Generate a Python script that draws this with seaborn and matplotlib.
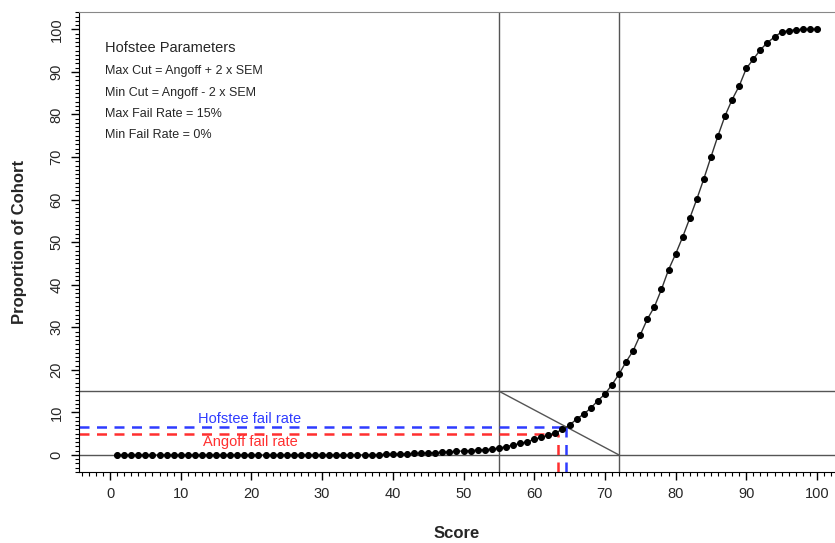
import matplotlib
matplotlib.use("Agg")
import matplotlib.pyplot as plt
from matplotlib.ticker import MultipleLocator
import seaborn as sns
import pandas as pd

scores = list(range(1, 101))
proportion = [
    0, 0, 0, 0, 0, 0, 0, 0, 0, 0,
    0, 0, 0, 0, 0, 0, 0, 0, 0, 0,
    0, 0, 0, 0, 0, 0, 0, 0, 0, 0,
    0, 0, 0, 0, 0, 0.05, 0.08, 0.1, 0.15, 0.2,
    0.25, 0.3, 0.35, 0.4, 0.5, 0.55, 0.65, 0.75, 0.85, 0.95,
    1.05, 1.15, 1.25, 1.4, 1.6, 1.95, 2.35, 2.7, 3.1, 3.7,
    4.15, 4.7, 5.2, 6.0, 7.0, 8.45, 9.6, 11.0, 12.75, 14.3,
    16.5, 19.0, 21.9, 24.5, 28.2, 31.9, 34.8, 38.9, 43.5, 47.2,
    51.2, 55.6, 60.1, 64.9, 70.0, 75.0, 79.7, 83.5, 86.7, 90.8,
    93.0, 95.2, 96.9, 98.2, 99.4, 99.7, 99.9, 100, 100, 100,
]

min_cut, max_cut = 55, 72
max_fail, min_fail = 15, 0
hofstee_cut, hofstee_rate = 64.5, 6.6
angoff_cut, angoff_rate = 63.4, 4.9

param_lines = [
    "Max Cut = Angoff + 2 x SEM",
    "Min Cut = Angoff - 2 x SEM",
    "Max Fail Rate = 15%",
    "Min Fail Rate = 0%",
]

sns.set_style("ticks")
plt.rcParams["font.family"] = ["Liberation Sans", "DejaVu Sans"]

df = pd.DataFrame({"Score": scores, "Proportion": proportion})

fig = plt.figure(figsize=(8.35, 5.43), dpi=100)
ax = fig.add_axes([79 / 835, 1 - 472 / 543, 1 - 79 / 835, (472 - 12) / 543])

xlo, xhi = -4.39, 102.55
ylo, yhi = -4.0, 104.07
ax.set_xlim(xlo, xhi)
ax.set_ylim(ylo, yhi)

grey = "#555555"
ax.axvline(min_cut, color=grey, lw=1)
ax.axvline(max_cut, color=grey, lw=1)
ax.axhline(max_fail, color=grey, lw=1)
ax.axhline(min_fail, color=grey, lw=1)
ax.plot([min_cut, max_cut], [max_fail, min_fail], color=grey, lw=1)

blue = "#2f3cff"
red = "#ff2f2f"
dash = (0, (4, 3))
ax.plot([xlo, hofstee_cut], [hofstee_rate, hofstee_rate], color=blue, lw=1.8, ls=dash)
ax.plot([hofstee_cut, hofstee_cut], [ylo, hofstee_rate], color=blue, lw=1.8, ls=dash)
ax.plot([xlo, angoff_cut], [angoff_rate, angoff_rate], color=red, lw=1.8, ls=dash)
ax.plot([angoff_cut, angoff_cut], [ylo, angoff_rate], color=red, lw=1.8, ls=dash)

sns.lineplot(data=df, x="Score", y="Proportion", ax=ax, color="#333333", lw=1,
             marker="o", markersize=4.3, markerfacecolor="black", markeredgecolor="black")

ax.text(19.8, 8.45, "Hofstee fail rate", color=blue, ha="center", va="center", fontsize=10.5)
ax.text(19.8, 3.1, "Angoff fail rate", color=red, ha="center", va="center", fontsize=10.5)

ax.text(-0.7, 95.5, "Hofstee Parameters", ha="left", va="center", fontsize=10.5)
for i, t in enumerate(param_lines):
    ax.text(-0.7, 90.1 - 4.95 * i, t, ha="left", va="center", fontsize=9)

ax.xaxis.set_major_locator(MultipleLocator(10))
ax.xaxis.set_minor_locator(MultipleLocator(1))
ax.yaxis.set_major_locator(MultipleLocator(10))
ax.yaxis.set_minor_locator(MultipleLocator(1))
ax.tick_params(which="major", length=6, width=1, color="black", labelsize=10.5, pad=5)
ax.tick_params(which="minor", length=3, width=0.8, color="black")
for lab in ax.get_yticklabels():
    lab.set_rotation(90)
    lab.set_va("center")

ax.spines["top"].set_color("#888888")
ax.spines["right"].set_visible(False)
ax.spines["left"].set_color("black")
ax.spines["bottom"].set_color("black")

ax.set_xlabel("Score", fontsize=12, fontweight="bold", labelpad=18)
ax.set_ylabel("Proportion of Cohort", fontsize=12, fontweight="bold", labelpad=16)

fig.savefig("out.png", dpi=100)
